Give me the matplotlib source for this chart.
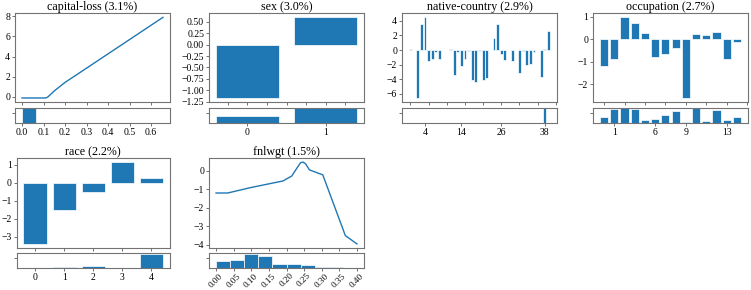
import numpy as np
import matplotlib
matplotlib.use("Agg")
import matplotlib.pyplot as plt
from matplotlib.ticker import MultipleLocator

plt.rcParams['font.family'] = ['Liberation Serif', 'DejaVu Serif']
plt.rcParams['font.size'] = 7.2
plt.rcParams['xtick.labelsize'] = 7
plt.rcParams['ytick.labelsize'] = 7

BLUE = '#1f77b4'

# capital-loss: shape function (line) + histogram of 10 bins
capital_loss_x = [0.0, 0.11, 0.12, 0.15, 0.20, 0.25, 0.655]
capital_loss_y = [-0.1, -0.1, 0.0, 0.6, 1.45, 2.15, 7.9]
capital_loss_bins = [0.0, 0.0655, 0.131, 0.1965, 0.262, 0.3275, 0.393, 0.4585, 0.524, 0.5895, 0.655]
capital_loss_hist = [1.2, 0.0, 0.0, 0.0, 0.0, 0.015, 0.02, 0.015, 0.0, 0.0]
capital_loss_ticks = [0.0, 0.1, 0.2, 0.3, 0.4, 0.5, 0.6]

# sex
sex_labels = ['0', '1']
sex_scores = [-1.17, 0.60]
sex_hist = [0.48, 1.0]

# native-country (category 15 absent)
country_labels = [str(c) for c in list(range(0, 15)) + list(range(16, 40))]
country_scores = [0.10, -0.05, -6.6, 3.6, 4.5, -1.5, -1.3, -0.3, -1.3, -0.05,
                  0.05, 0.15, -3.5, -0.3, -2.2, -1.2, -0.1, -4.1, -4.4, -0.2,
                  -4.1, -3.9, -0.05, 1.6, 3.6, -0.6, -1.4, -0.05, -1.5, -0.05,
                  -3.2, -0.2, -2.0, -1.9, -0.3, -0.05, -3.7, 0.2, 2.6]
country_hist = [0.03] + [0.0] * 24 + [0.04] + [0.0] * 11 + [1.5, 0.0]
country_ticks = ['4', '14', '26', '38']

# occupation (category 5 absent)
occupation_labels = ['0', '1', '2', '3', '4', '6', '7', '8', '9', '10', '11', '12', '13', '14']
occupation_scores = [-1.19, -0.88, 0.98, 0.74, 0.30, -0.77, -0.65, -0.40, -2.62,
                     0.24, 0.21, 0.31, -0.86, -0.12]
occupation_hist = [0.44, 0.93, 1.0, 0.91, 0.22, 0.31, 0.53, 0.80, 0.07, 0.98,
                   0.18, 0.84, 0.22, 0.40]
occupation_ticks = ['1', '6', '9', '13']

# race
race_labels = ['0', '1', '2', '3', '4']
race_scores = [-3.41, -1.54, -0.55, 1.14, 0.28]
race_hist = [0.01, 0.04, 0.11, 0.01, 0.93]

# fnlwgt
fnlwgt_x = [0.0, 0.033, 0.10, 0.19, 0.215, 0.228, 0.24, 0.247, 0.254, 0.265, 0.303, 0.367, 0.40]
fnlwgt_y = [-1.2, -1.2, -0.9, -0.55, -0.28, 0.1, 0.44, 0.47, 0.38, 0.05, -0.22, -3.5, -3.95]
fnlwgt_bins = [0.0, 0.04, 0.08, 0.12, 0.16, 0.20, 0.24, 0.28, 0.32, 0.36, 0.40]
fnlwgt_hist = [0.45, 0.52, 0.95, 0.80, 0.28, 0.30, 0.20, 0.10, 0.04, 0.01]
fnlwgt_ticks = [0.00, 0.05, 0.10, 0.15, 0.20, 0.25, 0.30, 0.35, 0.40]

titles = ['capital-loss (3.1%)', 'sex (3.0%)', 'native-country (2.9%)', 'occupation (2.7%)',
          'race (2.2%)', 'fnlwgt (1.5%)']

W, H = 751, 290
fig = plt.figure(figsize=(W / 100, H / 100), dpi=100)

col_left = [15, 209, 402, 593]
col_width = 155
rows = [(13.3, 102, 108, 123.3), (158, 248, 253, 268)]


def make_axes(row, col, xstep, ystep):
    top, bot, htop, hbot = rows[row]
    left = col_left[col] + (1.5 if (row, col) == (1, 0) else 0)
    width = col_width - (1.5 if (row, col) == (1, 0) else 0)
    ax = fig.add_axes([left / W, 1 - bot / H, width / W, (bot - top) / H])
    axh = fig.add_axes([left / W, 1 - hbot / H, width / W, (hbot - htop) / H])
    for a in (ax, axh):
        for s in a.spines.values():
            s.set_color('0.45')
            s.set_linewidth(0.8)
        a.tick_params(colors='0.35', labelcolor='black', length=2.3, width=0.6, pad=1.2)
    ax.tick_params(axis='x', labelbottom=False)
    ax.xaxis.set_major_locator(MultipleLocator(xstep))
    ax.yaxis.set_major_locator(MultipleLocator(ystep))
    axh.set_ylim(0, 1)
    axh.set_yticks([0.65])
    axh.set_yticklabels([])
    return ax, axh


def line_panel(row, col, title, x, y, bins, hist, ticks, fmt, xstep, ystep, rot=0):
    ax, axh = make_axes(row, col, xstep, ystep)
    ax.plot(x, y, color=BLUE, lw=1.0)
    ax.set_title(title, pad=2)
    axh.bar(bins[:-1], hist, width=np.diff(bins), align='edge', color=BLUE,
            edgecolor='white', linewidth=0.5)
    axh.set_xlim(ax.get_xlim())
    axh.set_xticks(ticks)
    axh.set_xticklabels([fmt % t for t in ticks], rotation=rot,
                        fontsize=6.6 if rot else 7)
    if rot:
        axh.tick_params(axis='x', pad=0.5)
    return ax, axh


def bar_panel(row, col, title, labels, scores, hist, xstep, ystep, ticks=None):
    ax, axh = make_axes(row, col, xstep, ystep)
    pos = np.arange(len(labels))
    ax.bar(pos, scores, width=0.8, color=BLUE, edgecolor='white', linewidth=0.5)
    ax.set_title(title, pad=2)
    axh.bar(pos, hist, width=0.8, color=BLUE, edgecolor='white', linewidth=0.5)
    axh.set_xlim(ax.get_xlim())
    if ticks is None:
        ticks = labels
    axh.set_xticks([labels.index(t) for t in ticks])
    axh.set_xticklabels(ticks)
    return ax, axh


line_panel(0, 0, titles[0], capital_loss_x, capital_loss_y, capital_loss_bins,
           capital_loss_hist, capital_loss_ticks, '%.1f', 0.1, 2)
bar_panel(0, 1, titles[1], sex_labels, sex_scores, sex_hist, 0.25, 0.25)
bar_panel(0, 2, titles[2], country_labels, country_scores, country_hist, 5, 2, country_ticks)
bar_panel(0, 3, titles[3], occupation_labels, occupation_scores, occupation_hist, 2, 1,
          occupation_ticks)
bar_panel(1, 0, titles[4], race_labels, race_scores, race_hist, 1, 1)
line_panel(1, 1, titles[5], fnlwgt_x, fnlwgt_y, fnlwgt_bins, fnlwgt_hist,
           fnlwgt_ticks, '%.2f', 0.05, 1, rot=45)

fig.savefig('out.png', dpi=100)
